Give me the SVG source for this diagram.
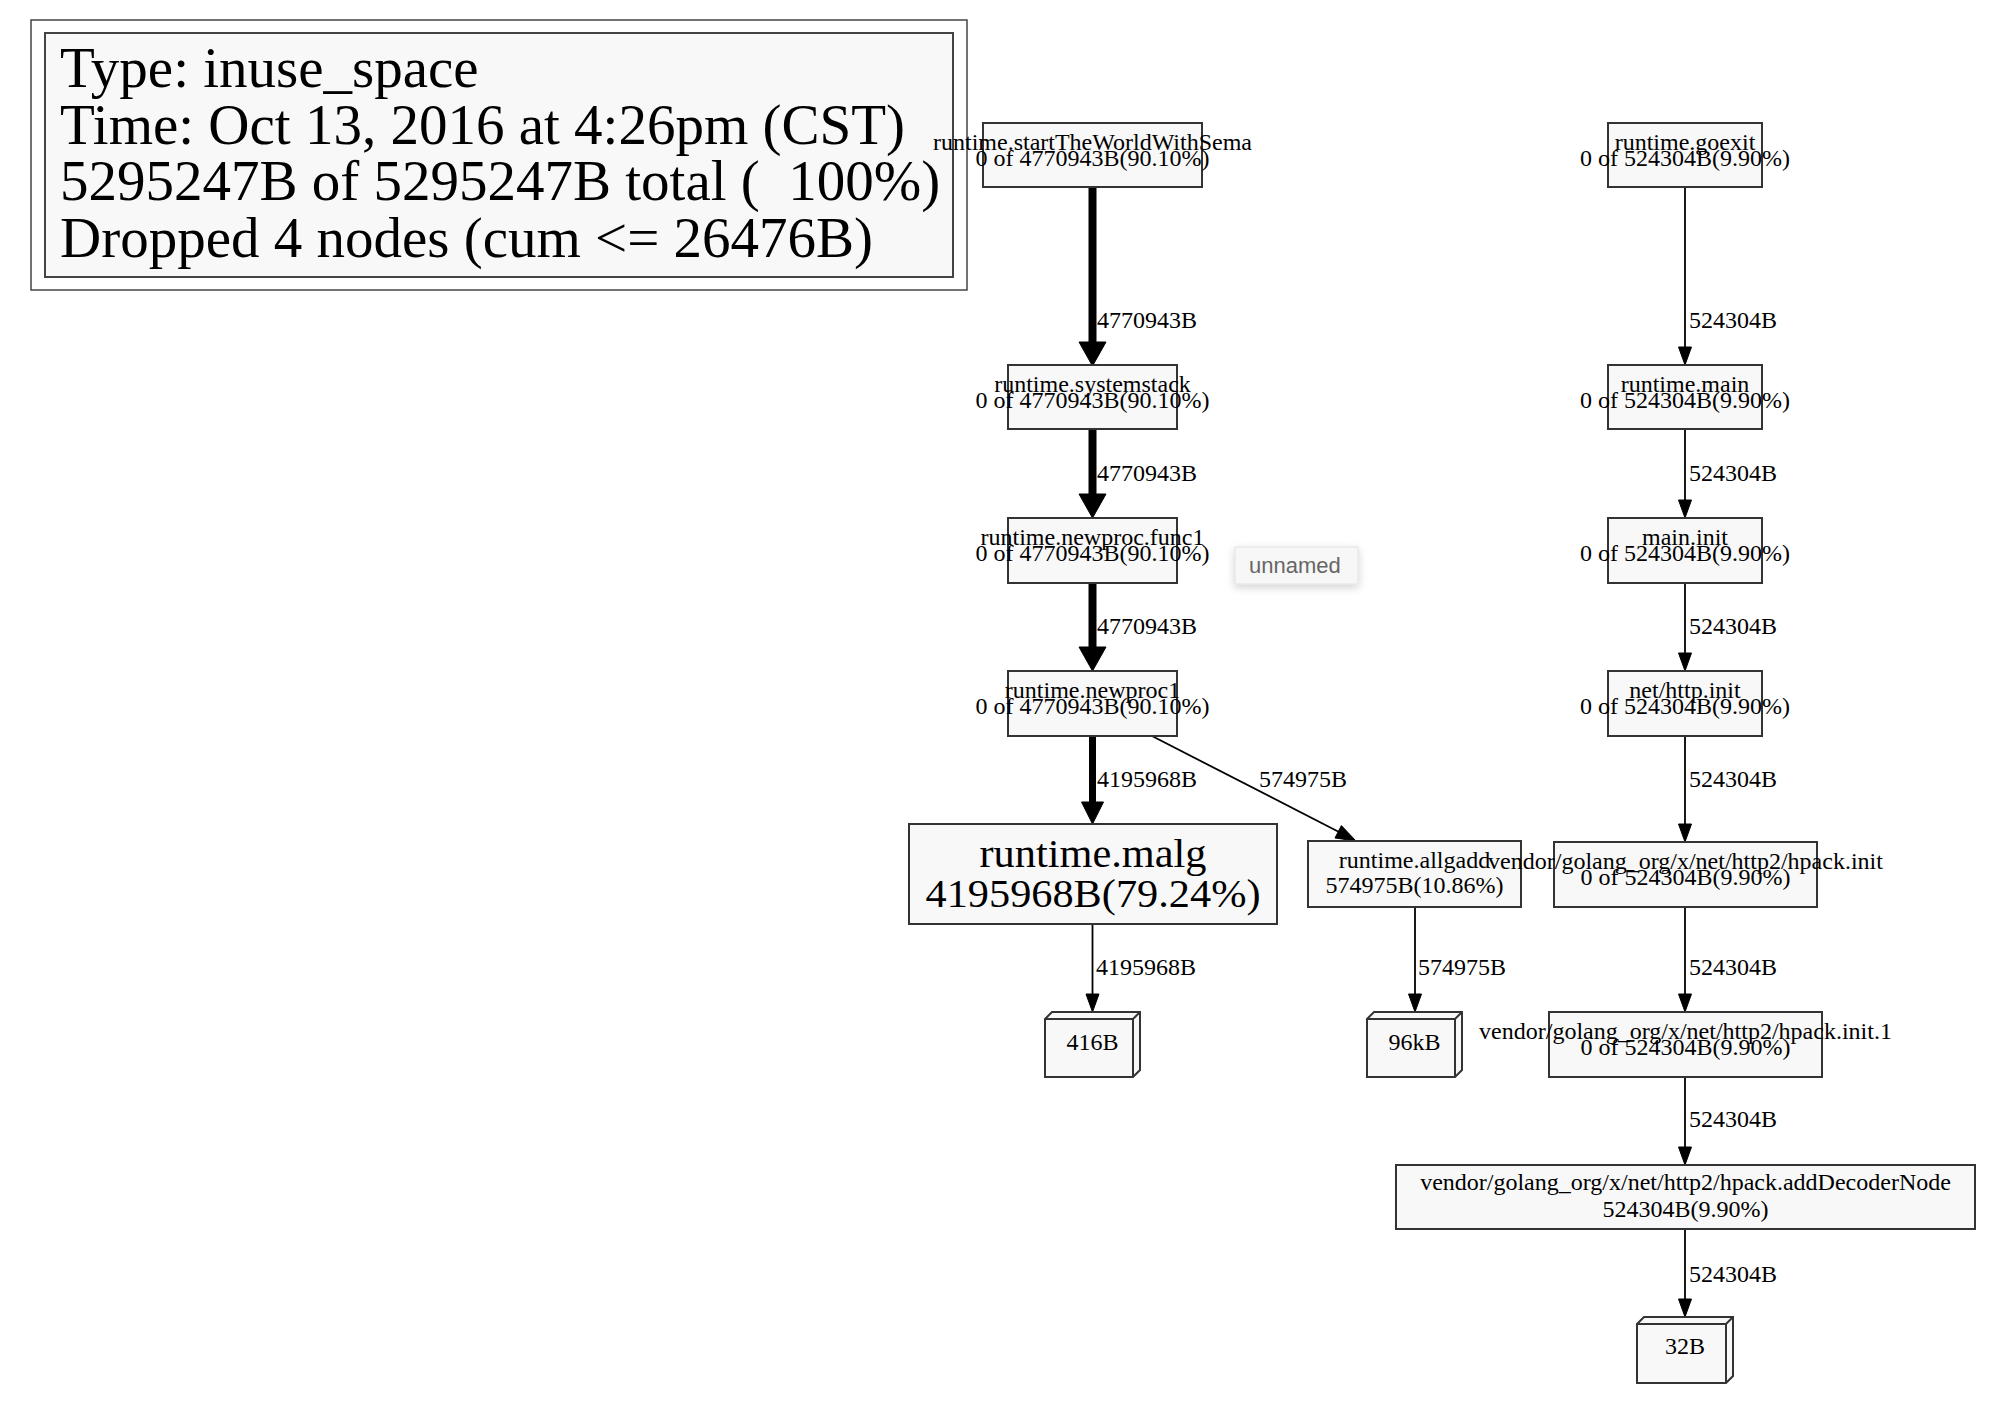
<svg xmlns="http://www.w3.org/2000/svg" width="2008" height="1410" viewBox="0 0 2008 1410">
<defs>
<style>
.nb{fill:#f8f8f8;stroke:#333;stroke-width:2}
.t{font-family:"Liberation Serif","Times New Roman",serif;fill:#000}
.s{font-size:24px;text-anchor:middle}
.lbl{font-size:24px}
.lg{font-size:57px}
.big{font-size:40px;text-anchor:middle}
.e{stroke:#000;fill:none}
.thin{stroke-width:1.8}
.ah{fill:#000;stroke:#000;stroke-width:1}
.tip{font-family:"Liberation Sans",Arial,sans-serif;font-size:22px;fill:#666}
</style>
<filter id="sh" x="-20%" y="-40%" width="140%" height="200%">
<feDropShadow dx="0" dy="3" stdDeviation="4" flood-color="#000" flood-opacity="0.18"/>
</filter>
</defs>
<rect width="2008" height="1410" fill="#fff"/>

<g id="legend">
<rect x="31" y="20" width="936" height="270" fill="#fff" stroke="#444" stroke-width="1.5"/>
<rect x="45" y="33" width="908" height="244" fill="#f8f8f8" stroke="#444" stroke-width="2"/>
<text class="t lg" x="60" y="87">Type: inuse_space</text>
<text class="t lg" x="60" y="143.5">Time: Oct 13, 2016 at 4:26pm (CST)</text>
<text class="t lg" x="60" y="200" xml:space="preserve">5295247B of 5295247B total (  100%)</text>
<text class="t lg" x="60" y="256.5">Dropped 4 nodes (cum &lt;= 26476B)</text>
</g>

<g id="connectors">
<g class="e">
<line x1="1092.5" y1="187" x2="1092.5" y2="344" stroke-width="8"/>
<line x1="1092.5" y1="429" x2="1092.5" y2="496" stroke-width="8"/>
<line x1="1092.5" y1="583" x2="1092.5" y2="649" stroke-width="8"/>
<line x1="1092.5" y1="736" x2="1092.5" y2="804" stroke-width="7"/>
<line class="thin" x1="1092.5" y1="924" x2="1092.5" y2="996"/>
<line class="thin" x1="1415" y1="907" x2="1415" y2="996"/>
<line class="thin" x1="1152" y1="736" x2="1339" y2="832"/>
<line class="thin" x1="1685" y1="187" x2="1685" y2="349"/>
<line class="thin" x1="1685" y1="429" x2="1685" y2="502"/>
<line class="thin" x1="1685" y1="583" x2="1685" y2="655"/>
<line class="thin" x1="1685" y1="736" x2="1685" y2="826"/>
<line class="thin" x1="1685" y1="907" x2="1685" y2="996"/>
<line class="thin" x1="1685" y1="1077" x2="1685" y2="1149"/>
<line class="thin" x1="1685" y1="1229" x2="1685" y2="1301"/>
</g>
<g class="ah">
<polygon points="1079,342 1106,342 1092.5,366"/>
<polygon points="1079,494 1106,494 1092.5,518"/>
<polygon points="1079,647 1106,647 1092.5,671"/>
<polygon points="1081.5,802 1103.5,802 1092.5,824"/>
<polygon points="1086,994 1099,994 1092.5,1012"/>
<polygon points="1408.5,994 1421.5,994 1415,1012"/>
<polygon points="1335,838 1341.4,825.6 1356,841"/>
<polygon points="1678.5,347 1691.5,347 1685,365"/>
<polygon points="1678.5,500 1691.5,500 1685,518"/>
<polygon points="1678.5,653 1691.5,653 1685,671"/>
<polygon points="1678.5,824 1691.5,824 1685,842"/>
<polygon points="1678.5,994 1691.5,994 1685,1012"/>
<polygon points="1678.5,1147 1691.5,1147 1685,1165"/>
<polygon points="1678.5,1299 1691.5,1299 1685,1317"/>
</g>
<g class="t lbl">
<text x="1097" y="328">4770943B</text>
<text x="1097" y="481">4770943B</text>
<text x="1097" y="634">4770943B</text>
<text x="1097" y="787">4195968B</text>
<text x="1259" y="787">574975B</text>
<text x="1096" y="975">4195968B</text>
<text x="1418" y="975">574975B</text>
<text x="1689" y="328">524304B</text>
<text x="1689" y="481">524304B</text>
<text x="1689" y="634">524304B</text>
<text x="1689" y="787">524304B</text>
<text x="1689" y="975">524304B</text>
<text x="1689" y="1127">524304B</text>
<text x="1689" y="1282">524304B</text>
</g>
</g>

<g id="n_startTheWorldWithSema">
<rect class="nb" x="983" y="123" width="219" height="64"/>
<text class="t s" x="1092.5" y="149.5">runtime.startTheWorldWithSema</text>
<text class="t s" x="1092.5" y="165.5">0 of 4770943B(90.10%)</text>
</g>
<g id="n_systemstack">
<rect class="nb" x="1008" y="365" width="169" height="64"/>
<text class="t s" x="1092.5" y="391.5">runtime.systemstack</text>
<text class="t s" x="1092.5" y="407.5">0 of 4770943B(90.10%)</text>
</g>
<g id="n_newproc_func1">
<rect class="nb" x="1008" y="518" width="169" height="65"/>
<text class="t s" x="1092.5" y="545">runtime.newproc.func1</text>
<text class="t s" x="1092.5" y="561">0 of 4770943B(90.10%)</text>
</g>
<g id="n_newproc1">
<rect class="nb" x="1008" y="671" width="169" height="65"/>
<text class="t s" x="1092.5" y="698">runtime.newproc1</text>
<text class="t s" x="1092.5" y="714">0 of 4770943B(90.10%)</text>
</g>
<g id="n_malg">
<rect class="nb" x="909" y="824" width="368" height="100"/>
<text class="t big" x="1093" y="867" textLength="227" lengthAdjust="spacingAndGlyphs">runtime.malg</text>
<text class="t big" x="1093" y="907" textLength="335" lengthAdjust="spacingAndGlyphs">4195968B(79.24%)</text>
</g>
<g id="n_allgadd">
<rect class="nb" x="1308" y="841" width="213" height="66"/>
<text class="t s" x="1414.5" y="868">runtime.allgadd</text>
<text class="t s" x="1414.5" y="893">574975B(10.86%)</text>
</g>
<g id="n_416B">
<polygon class="nb" points="1045,1019 1052,1012 1140,1012 1140,1070 1133,1077 1045,1077"/>
<polyline class="nb" fill="none" points="1045,1019 1133,1019 1133,1077"/>
<line class="nb" x1="1133" y1="1019" x2="1140" y2="1012"/>
<text class="t s" x="1092.5" y="1050">416B</text>
</g>
<g id="n_96kB">
<polygon class="nb" points="1367,1019 1374,1012 1462,1012 1462,1070 1455,1077 1367,1077"/>
<polyline class="nb" fill="none" points="1367,1019 1455,1019 1455,1077"/>
<line class="nb" x1="1455" y1="1019" x2="1462" y2="1012"/>
<text class="t s" x="1414.5" y="1050">96kB</text>
</g>

<g id="n_goexit">
<rect class="nb" x="1608" y="123" width="154" height="64"/>
<text class="t s" x="1685" y="149.5">runtime.goexit</text>
<text class="t s" x="1685" y="165.5">0 of 524304B(9.90%)</text>
</g>
<g id="n_runtime_main">
<rect class="nb" x="1608" y="365" width="154" height="64"/>
<text class="t s" x="1685" y="391.5">runtime.main</text>
<text class="t s" x="1685" y="407.5">0 of 524304B(9.90%)</text>
</g>
<g id="n_main_init">
<rect class="nb" x="1608" y="518" width="154" height="65"/>
<text class="t s" x="1685" y="545">main.init</text>
<text class="t s" x="1685" y="561">0 of 524304B(9.90%)</text>
</g>
<g id="n_http_init">
<rect class="nb" x="1608" y="671" width="154" height="65"/>
<text class="t s" x="1685" y="698">net/http.init</text>
<text class="t s" x="1685" y="714">0 of 524304B(9.90%)</text>
</g>
<g id="n_hpack_init">
<rect class="nb" x="1554" y="842" width="263" height="65"/>
<text class="t s" x="1685.5" y="869">vendor/golang_org/x/net/http2/hpack.init</text>
<text class="t s" x="1685.5" y="885">0 of 524304B(9.90%)</text>
</g>
<g id="n_hpack_init_1">
<rect class="nb" x="1549" y="1012" width="273" height="65"/>
<text class="t s" x="1685.5" y="1039">vendor/golang_org/x/net/http2/hpack.init.1</text>
<text class="t s" x="1685.5" y="1055">0 of 524304B(9.90%)</text>
</g>
<g id="n_addDecoderNode">
<rect class="nb" x="1396" y="1165" width="579" height="64"/>
<text class="t s" x="1685.5" y="1190">vendor/golang_org/x/net/http2/hpack.addDecoderNode</text>
<text class="t s" x="1685.5" y="1217">524304B(9.90%)</text>
</g>
<g id="n_32B">
<polygon class="nb" points="1637,1324 1644,1317 1733,1317 1733,1376 1726,1383 1637,1383"/>
<polyline class="nb" fill="none" points="1637,1324 1726,1324 1726,1383"/>
<line class="nb" x1="1726" y1="1324" x2="1733" y2="1317"/>
<text class="t s" x="1685" y="1354">32B</text>
</g>

<g id="tooltip">
<rect x="1235" y="547" width="123" height="37" fill="#f7f7f7" stroke="#e2e2e2" stroke-width="1" filter="url(#sh)"/>
<text class="tip" x="1249" y="573">unnamed</text>
</g>
</svg>
